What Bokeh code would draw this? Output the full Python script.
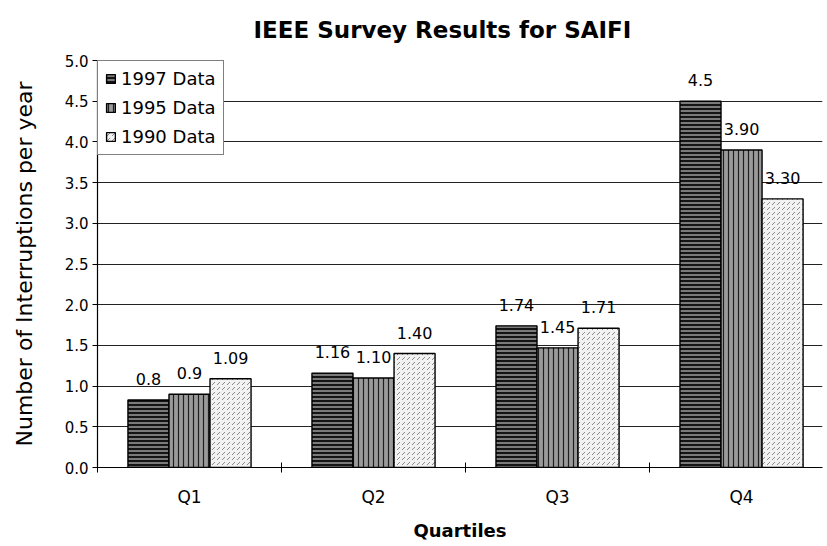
import numpy as np
from bokeh.plotting import figure
from bokeh.models import (ColumnDataSource, FixedTicker, NumeralTickFormatter,
                          Range1d, Legend, LegendItem, LabelSet)
from bokeh.core.properties import value
from bokeh.embed import file_html
from bokeh.resources import INLINE

quartiles = ["Q1", "Q2", "Q3", "Q4"]
series_names = ["1997 Data", "1995 Data", "1990 Data"]
data_1997 = [0.83, 1.16, 1.74, 4.5]
data_1995 = [0.90, 1.10, 1.47, 3.90]
data_1990 = [1.09, 1.40, 1.71, 3.30]
labels_1997 = ["0.8", "1.16", "1.74", "4.5"]
labels_1995 = ["0.9", "1.10", "1.45", "3.90"]
labels_1990 = ["1.09", "1.40", "1.71", "3.30"]
y_ticks = [0.0, 0.5, 1.0, 1.5, 2.0, 2.5, 3.0, 3.5, 4.0, 4.5, 5.0]

FONT = "DejaVu Sans"

p = figure(width=827, height=546, output_backend="svg", toolbar_location=None,
           x_range=Range1d(0, 3.94), y_range=Range1d(0, 5.0),
           min_border_left=97, min_border_right=5, min_border_bottom=79,
           min_border_top=60)
p.background_fill_color = "white"
p.border_fill_color = "white"
p.outline_line_color = None

# title
p.title.text = "IEEE Survey Results for SAIFI"
p.title.text_font = FONT
p.title.text_font_size = "23px"
p.title.text_font_style = "bold"
p.title.text_color = "black"
p.title.align = "left"
p.title.offset = 156
p.title.vertical_align = "top"
p.title.standoff = 32

centers = np.arange(len(quartiles)) + 0.5
bw = 0.223
offsets = [-bw, 0.0, bw]
values = [data_1997, data_1995, data_1990]
labels = [labels_1997, labels_1995, labels_1990]
styles = [
    dict(fill_color="#141414", hatch_pattern="horizontal_line", hatch_color="#e0e0e0",
         hatch_scale=4, hatch_weight=1),
    dict(fill_color="#9a9a9a", hatch_pattern="vertical_line", hatch_color="#1e1e1e",
         hatch_scale=5, hatch_weight=1.2),
    dict(fill_color="#f2f2f2", hatch_pattern="right_diagonal_dash", hatch_color="#8a8a8a",
         hatch_scale=5, hatch_weight=1),
]

items = []
for name, vals, labs, off, st in zip(series_names, values, labels, offsets, styles):
    src = ColumnDataSource(dict(x=centers + off, top=vals, lab=labs))
    r = p.vbar(x="x", top="top", width=bw, bottom=0, source=src,
               line_color="black", line_width=1.4, **st)
    items.append(LegendItem(label=name, renderers=[r]))
    ls = LabelSet(x="x", y="top", text="lab", source=src, text_align="center",
                  text_baseline="bottom", y_offset=15, text_font=value(FONT),
                  text_font_size=value("16px"), text_color="black")
    p.add_layout(ls)

legend = Legend(items=items, location="top_left", margin=0, padding=7,
                spacing=8, label_height=20, glyph_width=11, glyph_height=11,
                label_standoff=5, label_text_font=FONT, label_text_font_size="18px",
                label_text_color="black", border_line_color="black",
                border_line_width=1.2, background_fill_alpha=1.0)
p.add_layout(legend)

# y axis
p.yaxis.ticker = FixedTicker(ticks=y_ticks)
p.yaxis.formatter = NumeralTickFormatter(format="0.0")
p.yaxis.major_tick_in = 0
p.yaxis.major_tick_out = 5
p.yaxis.minor_tick_line_color = None
p.yaxis.major_label_text_font = FONT
p.yaxis.major_label_text_font_size = "15px"
p.yaxis.major_label_text_color = "black"
p.yaxis.major_label_standoff = 4
p.yaxis.axis_line_color = "black"
p.yaxis.axis_line_width = 1.2
p.yaxis.major_tick_line_color = "black"
p.yaxis.axis_label = "Number of Interruptions per year"
p.yaxis.axis_label_text_font = FONT
p.yaxis.axis_label_text_font_size = "22px"
p.yaxis.axis_label_text_font_style = "normal"
p.yaxis.axis_label_text_color = "black"
p.yaxis.axis_label_standoff = 25

# x axis
p.xaxis.ticker = FixedTicker(ticks=list(centers), minor_ticks=[0.0, 1.0, 2.0, 3.0])
p.xaxis.major_label_overrides = {float(c): q for c, q in zip(centers, quartiles)}
p.xaxis.major_tick_in = 0
p.xaxis.major_tick_out = 0
p.xaxis.minor_tick_in = 5
p.xaxis.minor_tick_out = 5
p.xaxis.minor_tick_line_color = "black"
p.xaxis.major_label_text_font = FONT
p.xaxis.major_label_text_font_size = "17px"
p.xaxis.major_label_text_color = "black"
p.xaxis.major_label_standoff = 14
p.xaxis.axis_line_color = "black"
p.xaxis.axis_line_width = 1.2
p.xaxis.axis_label = "Quartiles"
p.xaxis.axis_label_text_font = FONT
p.xaxis.axis_label_text_font_size = "18px"
p.xaxis.axis_label_text_font_style = "bold"
p.xaxis.axis_label_text_color = "black"
p.xaxis.axis_label_standoff = 10

p.xgrid.grid_line_color = None
p.ygrid.ticker = FixedTicker(ticks=y_ticks)
p.ygrid.grid_line_color = "#222222"
p.ygrid.grid_line_width = 1.2

open("out.html", "w").write(file_html(p, INLINE))
